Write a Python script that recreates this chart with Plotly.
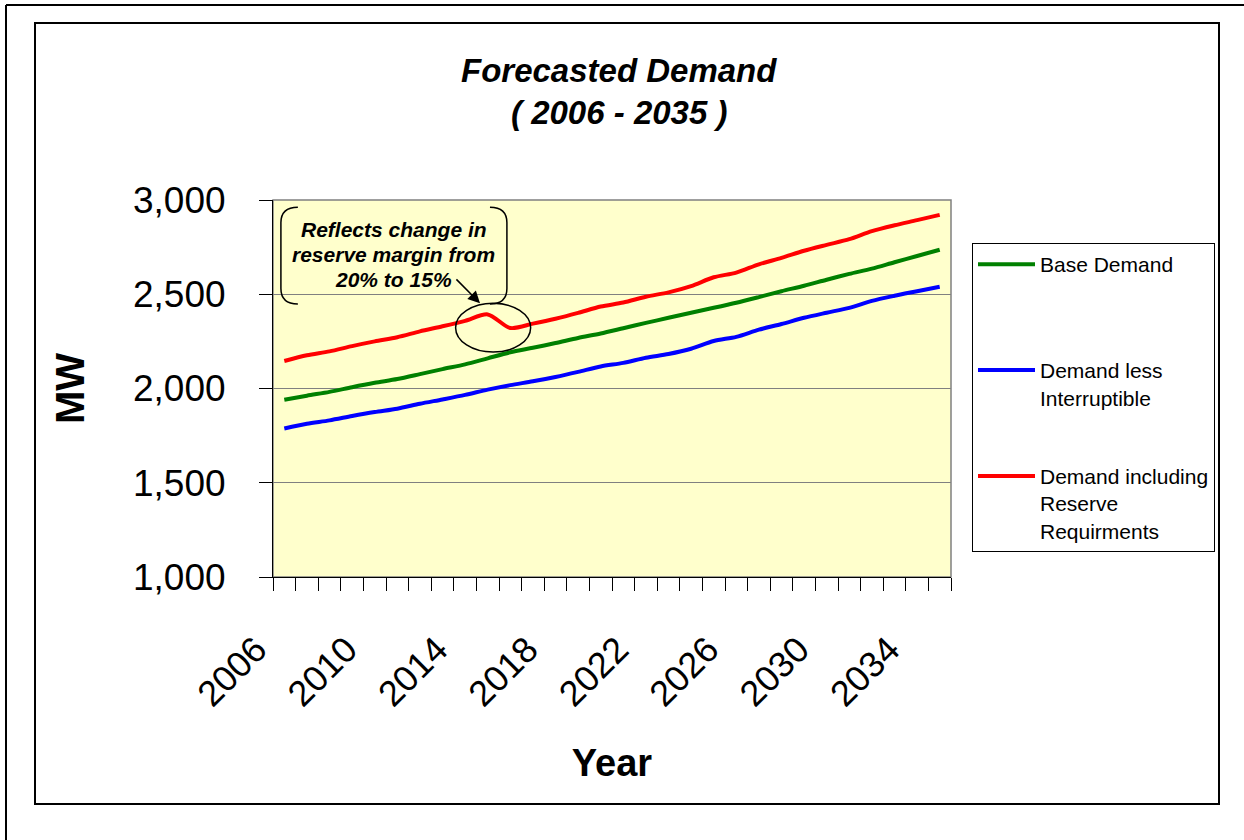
import plotly.graph_objects as go

years = list(range(2006, 2036))
base_demand = [1940, 1962, 1982, 2007, 2030, 2050, 2076, 2103, 2128, 2160,
               2192, 2216, 2241, 2268, 2292, 2320, 2348, 2375, 2402, 2428,
               2455, 2485, 2516, 2545, 2577, 2608, 2636, 2670, 2703, 2736]
less_interruptible = [1788, 1813, 1831, 1854, 1875, 1893, 1919, 1942, 1966, 1994,
                      2018, 2038, 2061, 2088, 2117, 2136, 2163, 2183, 2211, 2252,
                      2274, 2312, 2342, 2375, 2402, 2428, 2465, 2492, 2516, 2540]
incl_reserve = [2146, 2176, 2197, 2225, 2250, 2272, 2303, 2330, 2359, 2393,
                2321, 2344, 2370, 2401, 2435, 2456, 2487, 2510, 2543, 2590,
                2615, 2659, 2693, 2731, 2762, 2792, 2835, 2866, 2893, 2921]
tick_years = [2006, 2010, 2014, 2018, 2022, 2026, 2030, 2034]
y_ticks = [1000, 1500, 2000, 2500, 3000]

series_names = ["Base Demand<br> <br> ",
                "Demand less<br>Interruptible<br> ",
                "Demand including<br>Reserve<br>Requirments"]
series_colors = ["#008000", "#0000FF", "#FF0000"]
series_values = [base_demand, less_interruptible, incl_reserve]

FONT = "Liberation Sans, Arial, sans-serif"

# plot-area pixel geometry (for decorations only)
L, R, T, B = 273, 951, 200, 577
W, H = 1244, 840
def px_x(px):
    return (px - L) / (R - L)
def px_y(py):
    return (B - py) / (B - T)

fig = go.Figure()
for i, (name, col, vals) in enumerate(zip(series_names, series_colors, series_values)):
    fig.add_trace(go.Scatter(
        x=years, y=vals, mode="lines", name=name,
        line=dict(color=col, width=4, shape="spline", smoothing=0.8),
        legendgroup=f"g{i}", showlegend=True))

fig.update_layout(
    width=W, height=H,
    margin=dict(l=L, r=W - R, t=T, b=H - B, autoexpand=False),
    paper_bgcolor="white", plot_bgcolor="#FFFFCC",
    font=dict(family=FONT, color="black"),
    legend=dict(x=px_x(972), y=px_y(243), xanchor="left", yanchor="top",
                bordercolor="black", borderwidth=1, bgcolor="white",
                font=dict(size=21, family=FONT), valign="top",
                tracegroupgap=21, itemwidth=57),
    xaxis=dict(range=[2005.5, 2035.5], tickmode="array", tickvals=tick_years,
               ticktext=[str(y) for y in tick_years], tickangle=-45,
               tickfont=dict(size=36, family=FONT), ticks="",
               showgrid=False, zeroline=False, showline=True, linecolor="black",
               linewidth=1, ticklabelstandoff=36, ticklabelshift=-28,
               minor=dict(tickmode="linear", tick0=2005.5, dtick=1, ticks="outside",
                          ticklen=13, tickcolor="black", tickwidth=1, showgrid=False),
               title=dict(text="<b>Year</b>", font=dict(size=38, family=FONT), standoff=36)),
    yaxis=dict(range=[1000, 3000], tickmode="array", tickvals=y_ticks,
               ticktext=[f"{v:,}" for v in y_ticks],
               tickfont=dict(size=37, family=FONT), ticks="outside", ticklen=13,
               tickcolor="black", showgrid=True, gridcolor="#808080", gridwidth=1,
               zeroline=False, showline=True, linecolor="black", linewidth=1,
               ticklabelstandoff=26,
               title=dict(text="<b>MW</b>", font=dict(size=40, family=FONT), standoff=36)),
)

shapes = []
# plot area border (gray)
shapes.append(dict(type="rect", xref="x domain", yref="y domain", x0=0, x1=1, y0=0, y1=1,
                   line=dict(color="#808080", width=1.5), layer="below"))
# inner chart frame
shapes.append(dict(type="rect", xref="paper", yref="paper", x0=px_x(35), x1=px_x(1219),
                   y0=px_y(804), y1=px_y(23), line=dict(color="black", width=2)))
# outer frame (top and left only visible)
shapes.append(dict(type="line", xref="paper", yref="paper", x0=px_x(6), x1=px_x(1260),
                   y0=px_y(5), y1=px_y(5), line=dict(color="black", width=2)))
shapes.append(dict(type="line", xref="paper", yref="paper", x0=px_x(6), x1=px_x(6),
                   y0=px_y(5), y1=px_y(860), line=dict(color="black", width=2)))
# callout bracket pair (data coords)
shapes.append(dict(type="path", xref="x", yref="y",
                   path="M 2006.6,2962 Q 2005.85,2962 2005.85,2880 L 2005.85,2530 Q 2005.85,2448 2006.6,2448",
                   line=dict(color="black", width=1.5)))
shapes.append(dict(type="path", xref="x", yref="y",
                   path="M 2015.1,2962 Q 2015.85,2962 2015.85,2880 L 2015.85,2530 Q 2015.85,2448 2015.1,2448",
                   line=dict(color="black", width=1.5)))
# ellipse around the dip
shapes.append(dict(type="circle", xref="x", yref="y", x0=2013.58, x1=2016.9, y0=2193, y1=2452,
                   line=dict(color="black", width=1.5)))
fig.update_layout(shapes=shapes)

anns = []
anns.append(dict(xref="paper", yref="paper", x=px_x(619), y=px_y(70), text="<b><i>Forecasted Demand</i></b>",
                 showarrow=False, font=dict(size=33, family=FONT), xanchor="center", yanchor="middle"))
anns.append(dict(xref="paper", yref="paper", x=px_x(619), y=px_y(113), text="<b><i>( 2006 - 2035 )</i></b>",
                 showarrow=False, font=dict(size=33, family=FONT), xanchor="center", yanchor="middle"))
for txt, yv in [("Reflects change in", 2844), ("reserve margin from", 2710), ("20% to 15%", 2576)]:
    anns.append(dict(xref="x", yref="y", x=2010.85, y=yv, text=f"<b><i>{txt}</i></b>",
                     showarrow=False, font=dict(size=21, family=FONT), xanchor="center", yanchor="middle"))
anns.append(dict(xref="x", yref="y", axref="x", ayref="y", x=2014.66, y=2452, ax=2013.55, ay=2587,
                 text="", showarrow=True, arrowhead=2, arrowsize=1.6, arrowwidth=1.5, arrowcolor="black"))
fig.update_layout(annotations=anns)

fig.write_html("out.html")
